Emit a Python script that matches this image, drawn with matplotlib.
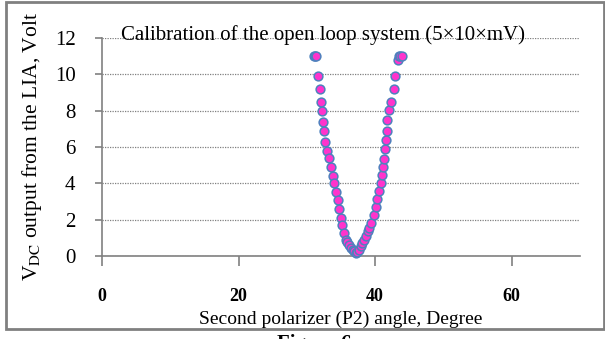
import numpy as np
import matplotlib.pyplot as plt
from matplotlib.patches import Rectangle

plt.rcParams['font.family'] = ['Liberation Serif', 'DejaVu Serif']
plt.rcParams['mathtext.fontset'] = 'stix'

# angle (deg) vs LIA DC output (V)
angle = [31.0, 31.2, 31.4, 31.7, 31.9, 32.1, 32.2, 32.3, 32.5, 32.7, 32.9,
         33.3, 33.5, 33.8, 34.0, 34.3, 34.5, 34.7, 35.0, 35.2, 35.5, 35.7,
         35.9, 36.2, 36.4, 36.7, 36.9, 37.2, 37.4,
         37.6, 37.9, 38.1, 38.4, 38.6, 38.9, 39.1, 39.4, 39.8, 40.1, 40.3,
         40.6, 40.8, 41.0, 41.1, 41.3, 41.4, 41.6, 41.7, 41.8, 42.0, 42.3,
         42.7, 42.9, 43.3, 43.5, 43.7, 43.9]
volts = [11.0, 11.0, 11.0, 9.9, 9.2, 8.5, 8.0, 7.4, 6.9, 6.3, 5.8,
         5.4, 4.9, 4.4, 4.0, 3.5, 3.1, 2.6, 2.1, 1.7, 1.25, 0.9,
         0.75, 0.6, 0.45, 0.35, 0.25, 0.18, 0.2,
         0.35, 0.55, 0.7, 0.9, 1.1, 1.35, 1.55, 1.8, 2.25, 2.7, 3.15,
         3.6, 4.0, 4.45, 4.9, 5.35, 5.9, 6.4, 6.9, 7.5, 8.05, 8.5,
         9.2, 9.9, 10.8, 11.0, 11.0, 11.0]

xticks = [0, 20, 40, 60]
yticks = [0, 2, 4, 6, 8, 10, 12]

fig = plt.figure(figsize=(6.05, 3.39), dpi=100)
ax = fig.add_axes([0.1686, 0.2448, 0.7901, 0.6431])

ax.plot(angle, volts, 'o', ms=6.3, mfc='#FF33CC', mec='#4F81BD', mew=1.1,
        clip_on=False, zorder=3)

ax.set_xlim(0, 70)
ax.set_ylim(0, 12)
ax.set_xticks(xticks)
ax.set_yticks(yticks)
ax.set_xticklabels([str(t) for t in xticks], fontsize=13, fontweight='bold')
ax.set_yticklabels([str(t) for t in yticks], fontsize=15)
ax.tick_params(axis='x', direction='out', length=7, width=1.2, color='#808080', pad=16)
ax.tick_params(axis='y', direction='out', length=5, width=1.2, color='#808080', pad=14)

ax.yaxis.grid(True, linestyle=(0, (1, 1)), color='#808080', linewidth=0.9)
ax.set_axisbelow(True)
for s in ['top', 'right']:
    ax.spines[s].set_visible(False)
for s in ['left', 'bottom']:
    ax.spines[s].set_color('#808080')
    ax.spines[s].set_linewidth(1.2)

ax.set_xlabel('Second polarizer (P2) angle, Degree', fontsize=14, labelpad=4)
ax.set_ylabel(r'V$_{\mathrm{DC}}$ output from the LIA, Volt', fontsize=15.5, labelpad=8)
ax.text(0.462, 1.015, 'Calibration of the open loop system (5\u00d710\u00d7mV)',
        transform=ax.transAxes, ha='center', va='center', fontsize=15)

# outer frame and clipped caption
fig.patches.append(Rectangle((6 / 605, 1 - 329 / 339), 598 / 605, 327 / 339,
                             transform=fig.transFigure, fill=False,
                             edgecolor='#808080', linewidth=2))
fig.text(0.52, 1 - 334 / 339, 'Figure 6', ha='center', va='top',
         fontsize=15, fontweight='bold')

fig.savefig('out.png', dpi=100)
